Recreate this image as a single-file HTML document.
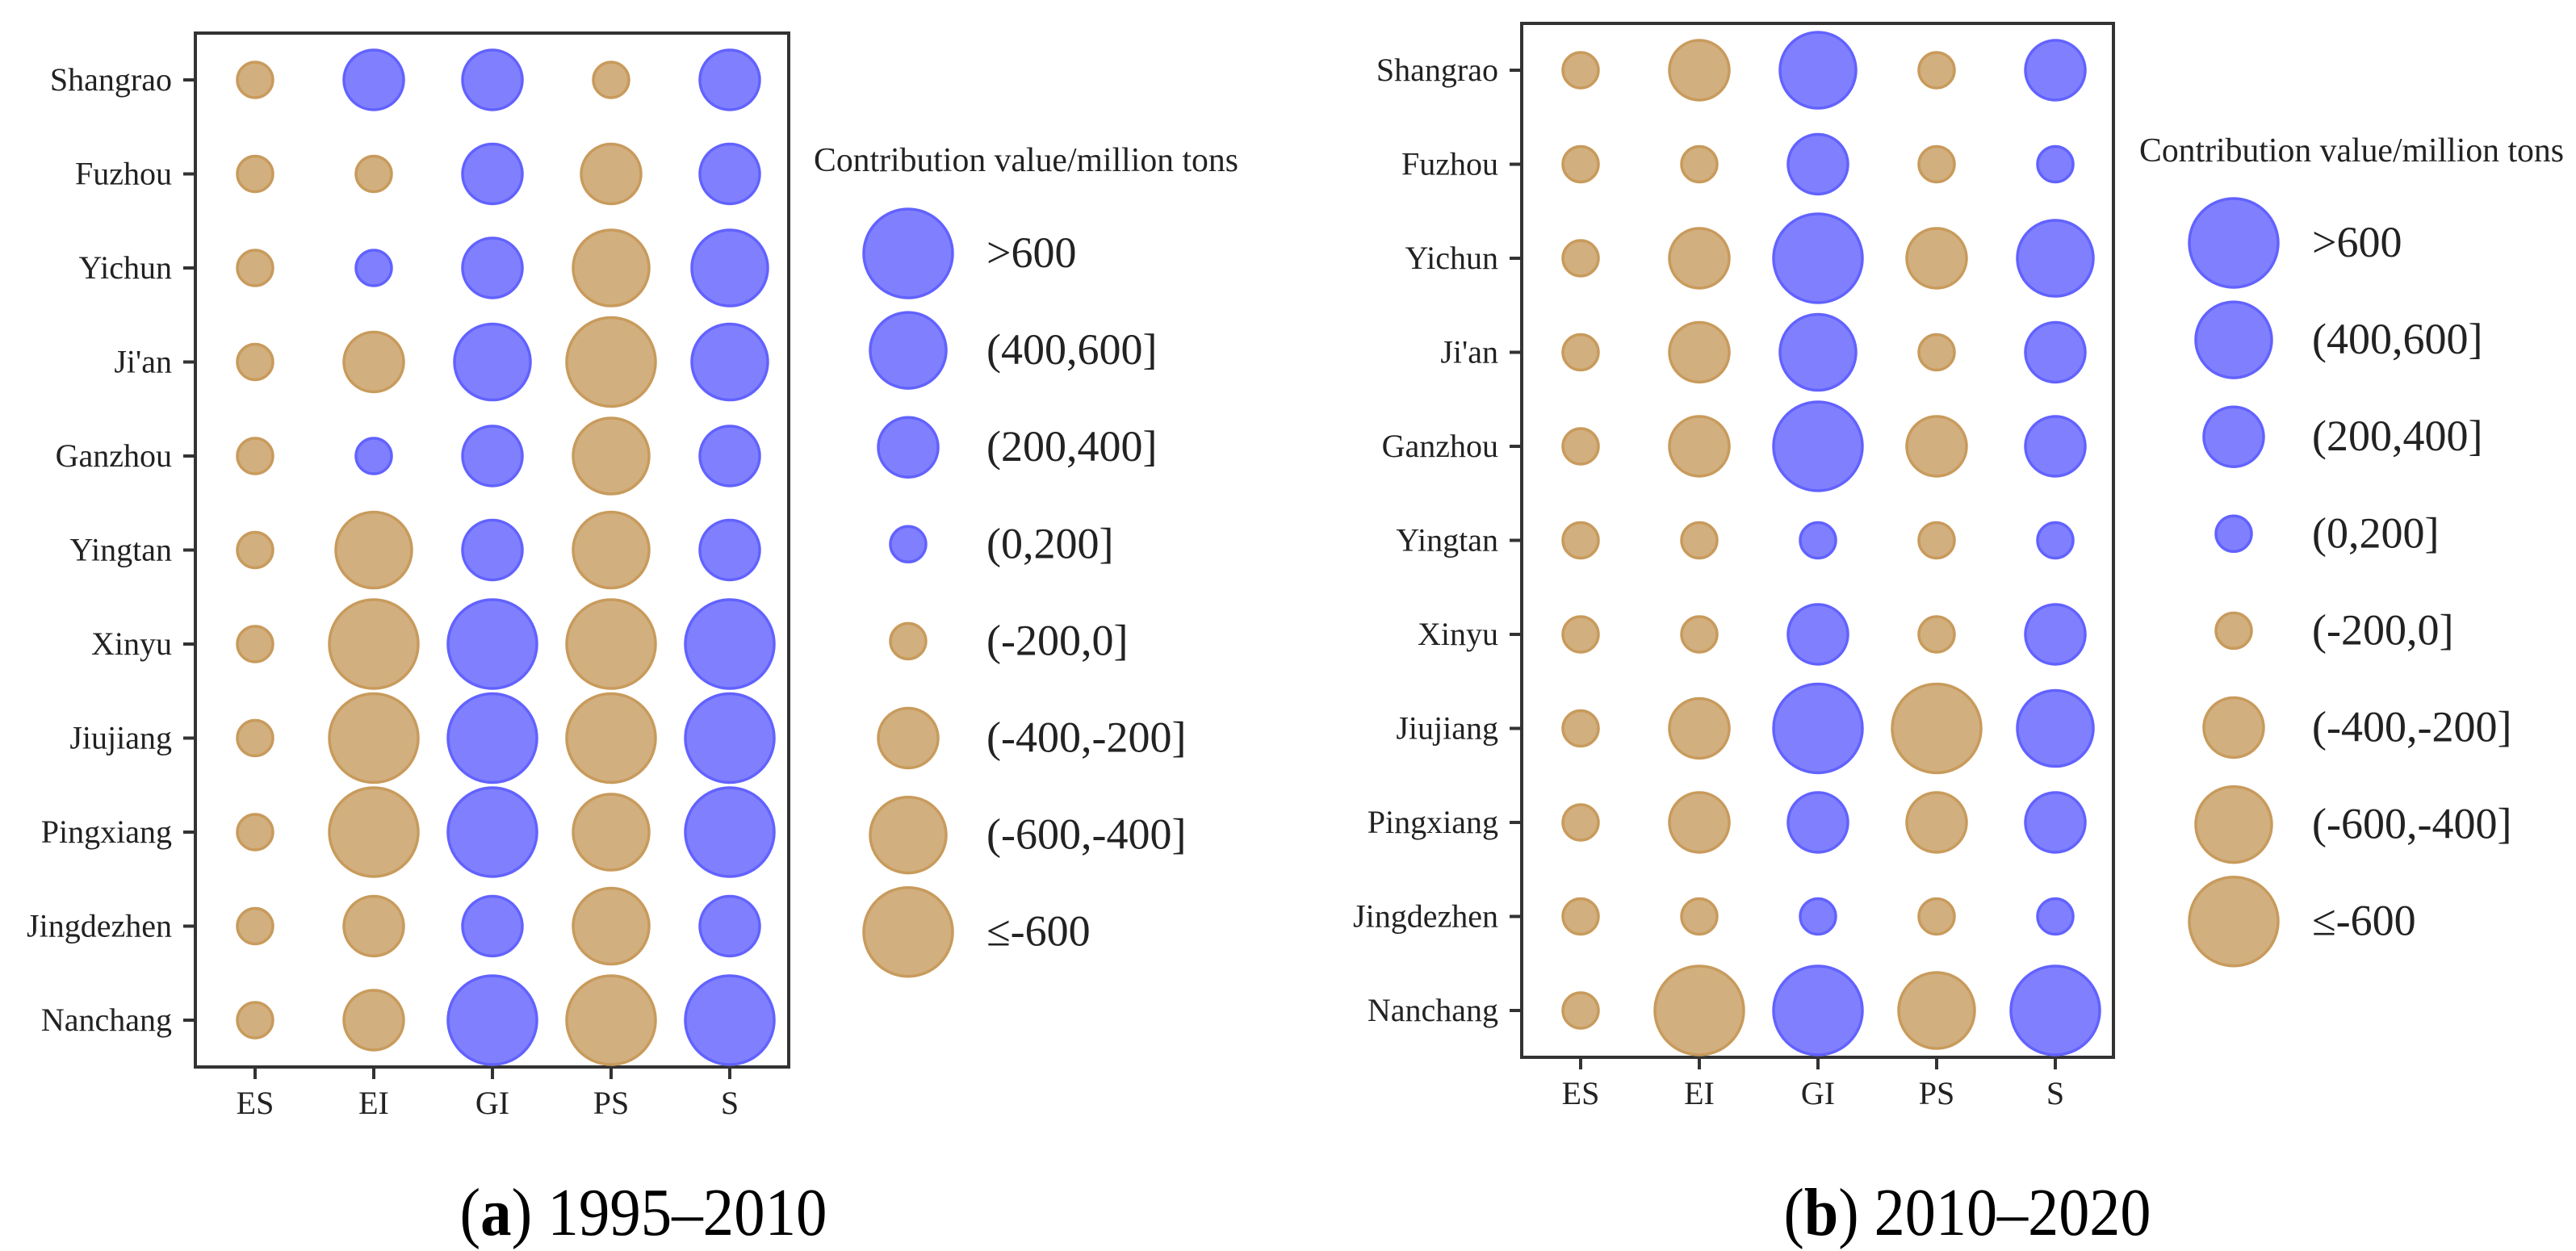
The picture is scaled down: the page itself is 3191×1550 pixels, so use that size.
<!DOCTYPE html>
<html><head><meta charset="utf-8"><style>
html,body{margin:0;padding:0;background:#fff;}
svg{display:block;font-family:"Liberation Serif",serif;}
</style></head><body>
<svg id="chart" width="3191" height="1550" viewBox="0 0 3191 1550" xmlns="http://www.w3.org/2000/svg"></svg>
<script>
const cities = ["Shangrao","Fuzhou","Yichun","Ji'an","Ganzhou","Yingtan","Xinyu","Jiujiang","Pingxiang","Jingdezhen","Nanchang"];
const factors = ["ES","EI","GI","PS","S"];
// values (million tons) per city, columns ES, EI, GI, PS, S
const valuesA = [
 [-100, 300, 300,-100, 300],
 [-100,-100, 300,-300, 300],
 [-100, 100, 300,-500, 500],
 [-100,-300, 500,-700, 500],
 [-100, 100, 300,-500, 300],
 [-100,-500, 300,-500, 300],
 [-100,-700, 700,-700, 700],
 [-100,-700, 700,-700, 700],
 [-100,-700, 700,-500, 700],
 [-100,-300, 300,-500, 300],
 [-100,-300, 700,-700, 700]
];
const valuesB = [
 [-100,-300, 500,-100, 300],
 [-100,-100, 300,-100, 100],
 [-100,-300, 700,-300, 500],
 [-100,-300, 500,-100, 300],
 [-100,-300, 700,-300, 300],
 [-100,-100, 100,-100, 100],
 [-100,-100, 300,-100, 300],
 [-100,-300, 700,-700, 500],
 [-100,-300, 300,-300, 300],
 [-100,-100, 100,-100, 100],
 [-100,-700, 700,-500, 700]
];
const legendLabels = [">600","(400,600]","(200,400]","(0,200]","(-200,0]","(-400,-200]","(-600,-400]","≤-600"];
const legendValues = [700,500,300,100,-100,-300,-500,-700];

const NS="http://www.w3.org/2000/svg";
const svg=document.getElementById('chart');
function mk(tag,attrs,parent){const e=document.createElementNS(NS,tag);for(const k in attrs)e.setAttribute(k,attrs[k]);(parent||svg).appendChild(e);return e;}
function radius(v){const a=Math.abs(v);if(a>600)return 55;if(a>400)return 47;if(a>200)return 37;return 22;}
function fill(v){return v>0?"#8080ff":"#d2af7f";}
function stroke(v){return v>0?"#6262ff":"#c89b5c";}

function panel(p){
  const g=mk('g',{});
  
  
  const x=j=>p.x0+j*147;
  const y=i=>p.y0+i*116.5;
  // frame
  const fr=mk('rect',{x:p.fl,y:p.ft,width:p.fr-p.fl,height:p.fb-p.ft,fill:'none',stroke:'#333',"stroke-width":4},g);
  
  
  // y ticks + labels
  cities.forEach((c,i)=>{
    const t=mk('line',{x1:p.fl-15,x2:p.fl,y1:y(i),y2:y(i),stroke:'#333',"stroke-width":4},g);
    
    
    const l=mk('text',{x:p.fl-29,y:y(i)+13,"text-anchor":"end","font-size":40,fill:'#222'},g);
    l.textContent=c;
    
    
  });
  factors.forEach((f,j)=>{
    const t=mk('line',{x1:x(j),x2:x(j),y1:p.fb,y2:p.fb+15,stroke:'#333',"stroke-width":4},g);
    
    
    const l=mk('text',{x:x(j),y:p.fb+58,"text-anchor":"middle","font-size":40,fill:'#222'},g);
    l.textContent=f;
    
    
  });
  // bubbles
  p.vals.forEach((row,i)=>row.forEach((v,j)=>{
    const c=mk('circle',{cx:x(j),cy:y(i),r:radius(v),fill:fill(v),stroke:stroke(v),"stroke-width":3.5},g);
    
    
  }));
  // legend
  const lt=mk('text',{x:p.lgx-117,y:p.lty,"font-size":42,fill:'#222',textLength:526,lengthAdjust:'spacingAndGlyphs'},g);
  lt.textContent="Contribution value/million tons";
  
  
  legendValues.forEach((v,k)=>{
    const cy=p.lgy+k*120.1;
    const c=mk('circle',{cx:p.lgx,cy:cy,r:radius(v),fill:fill(v),stroke:stroke(v),"stroke-width":3.5},g);
    
    
    const t=mk('text',{x:p.lgx+97,y:cy+17,"font-size":54,fill:'#222'},g);
    t.textContent=legendLabels[k];
    
    
  });
  // caption
  const cap=mk('text',{x:p.capx,y:1530,"text-anchor":"middle","font-size":84,fill:'#000',textLength:455,lengthAdjust:'spacingAndGlyphs'},g);
  const t1=mk('tspan',{},cap);t1.textContent="(";
  const t2=mk('tspan',{"font-weight":"bold"},cap);t2.textContent=p.id;
  const t3=mk('tspan',{},cap);t3.textContent=") "+p.years;
  
  
}
panel({id:'a',years:'1995–2010',vals:valuesA,x0:316,y0:99,fl:242,fr:977,ft:41,fb:1322,lgx:1125,lgy:314,lty:212,capx:797});
panel({id:'b',years:'2010–2020',vals:valuesB,x0:1958,y0:87,fl:1885,fr:2618,ft:29,fb:1310,lgx:2767,lgy:301,lty:200,capx:2437});
</script>
</body></html>
